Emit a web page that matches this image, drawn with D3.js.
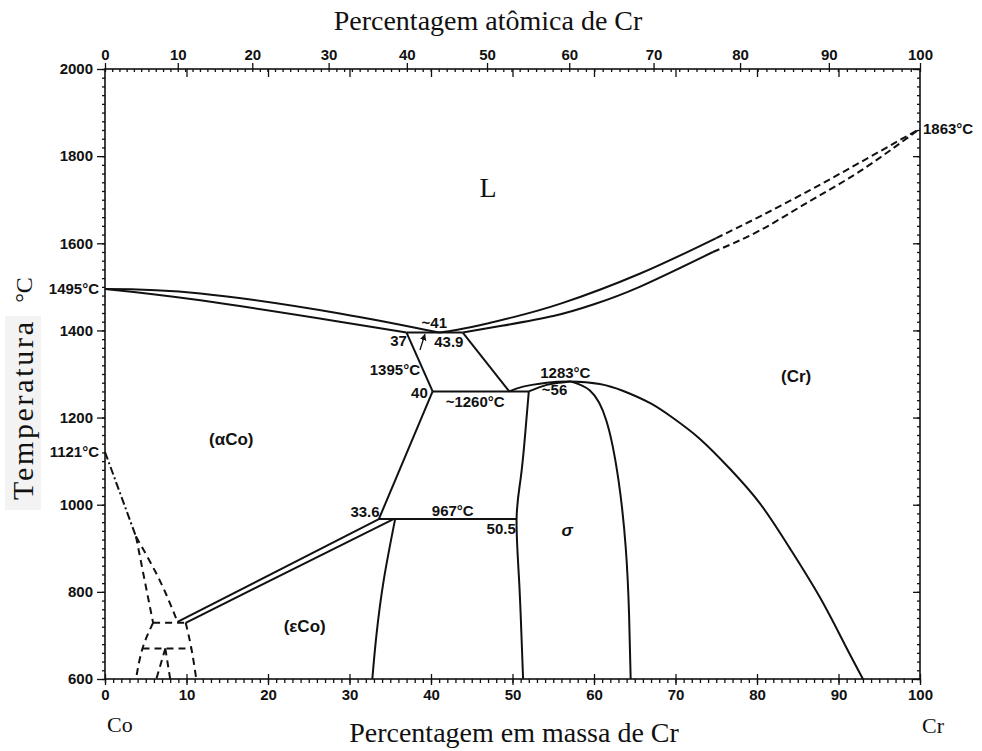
<!DOCTYPE html>
<html>
<head>
<meta charset="utf-8">
<script src="https://cdn.jsdelivr.net/npm/d3@7"></script>
<style>
body { margin: 0; background: #fff; }
svg { display: block; }
.tick text { font-family: "Liberation Sans", Arial, sans-serif; font-weight: bold; font-size: 15px; fill: #111; }
.tick line { stroke: #111; stroke-width: 1.3; }
.lbl { font-family: "Liberation Sans", Arial, sans-serif; font-weight: bold; font-size: 15px; fill: #111; }
.phase { font-family: "Liberation Sans", Arial, sans-serif; font-weight: bold; font-size: 17px; fill: #111; }
.serif { font-family: "Liberation Serif", "Times New Roman", serif; fill: #111; }
</style>
</head>
<body>
<svg id="chart" width="982" height="751"></svg>
<script>
// ticks
const massTicks = d3.range(0, 101, 10);
const massMinor = d3.range(0, 101, 1);
const atomTicks = d3.range(0, 101, 10);
const atomMinor = d3.range(0, 101, 1);
const tempTicks = d3.range(600, 2001, 200);
const tempMinor = d3.range(600, 2001, 20);

// phase boundaries, [mass % Cr, temperature °C]
const liqLeft = [[0, 1495], [11.7, 1485], [28.8, 1439], [41, 1395]];
const solLeft = [[0, 1495], [11.7, 1469], [28.8, 1420], [37, 1395]];
const liqRight = [[41, 1395], [45, 1408], [50, 1430], [56, 1462], [65.6, 1530], [75, 1612]];
const liqRightDash = [[75, 1612], [80.4, 1662], [86.5, 1722], [92.6, 1785], [100, 1863]];
const solRight = [[43.9, 1395], [48.5, 1410], [55, 1433], [60, 1460], [65.6, 1500], [74.6, 1580]];
const solRightDash = [[74.6, 1580], [80.4, 1630], [86.5, 1697], [92.6, 1765], [100, 1863]];
const crSolvus = [[49.6, 1260], [51.3, 1271], [54.2, 1280], [57.1, 1283], [60.7, 1277], [63.6, 1261],
                  [66.9, 1233], [69.7, 1199], [73, 1151], [76.7, 1082], [80.4, 1002], [84, 901],
                  [87.7, 788], [90.8, 678], [93, 600]];
const sigmaTop = [[52, 1260], [54.2, 1275], [55.8, 1280], [57.1, 1283]];
const sigmaRight = [[57.1, 1283], [59.5, 1262], [61.5, 1194], [63, 1057], [63.9, 900], [64.3, 750], [64.5, 600]];
const sigmaLeft = [[52, 1260], [51.5, 1150], [51, 1060], [50.5, 967], [50.8, 830], [51.1, 700], [51.3, 600]];
const epsBoundary = [[35.6, 967], [34.2, 827], [33.3, 700], [32.8, 600]];
const straightLines = [
  [[37, 1395], [43.9, 1395]],
  [[37, 1395], [40.2, 1260]],
  [[43.9, 1395], [49.6, 1260]],
  [[40.2, 1260], [52, 1260]],
  [[40.2, 1260], [33.6, 967]],
  [[33.6, 967], [50.5, 967]],
  [[8.9, 731], [33.6, 967]],
  [[9.9, 729], [35.4, 967]]
];
const coDashed = [
  [[3.8, 927], [5.9, 729]],
  [[3.8, 927], [6.7, 827], [8.9, 731]],
  [[5.9, 729], [9.9, 729]],
  [[5.9, 729], [4.6, 670], [3.8, 600]],
  [[9.9, 729], [10.6, 670], [11.2, 600]],
  [[4.6, 670], [10.6, 670]],
  [[7.4, 670], [6.3, 600]],
  [[7.4, 670], [8.0, 600]]
];
const dashDot = [[0, 1121], [3.8, 927]];
const arrow1395 = [[38.65, 1355], [39.25, 1391]];

// annotations, [text, mass %, °C, anchor]
const valueLabels = [
  ["~41", 40.4, 1406, "middle"],
  ["37", 37.05, 1365, "end"],
  ["43.9", 40.4, 1363, "start"],
  ["1395°C", 38.65, 1298, "end"],
  ["40", 39.6, 1245, "end"],
  ["~1260°C", 41.8, 1225, "start"],
  ["1283°C", 53.4, 1291, "start"],
  ["~56", 53.6, 1252, "start"],
  ["33.6", 33.7, 972, "end"],
  ["967°C", 40.1, 975, "start"],
  ["50.5", 50.4, 933, "end"]
];
const phaseLabels = [
  ["(αCo)", 15.5, 1137],
  ["(εCo)", 24.5, 708],
  ["(Cr)", 84.8, 1282]
];
const meltLabels = [["1495°C", 0, 1495, "end"], ["1121°C", 0, 1121, "end"], ["1863°C", 100, 1863, "start"]];

const CR = 51.996, CO = 58.933;
const atToWt = a => 100 * a * CR / (a * CR + (100 - a) * CO);

const svg = d3.select('#chart');
const x = d3.scaleLinear().domain([0, 100]).range([105, 920]);
const y = d3.scaleLinear().domain([600, 2000]).range([679, 69]);
const xa = d3.scaleLinear().domain(atomMinor).range(atomMinor.map(a => x(atToWt(a))));

// grey strip behind the pasted y title
svg.append('rect').attr('x', 5).attr('y', 316).attr('width', 36).attr('height', 194).attr('fill', '#f3f3f3');

function axis(gen, tx, ty) {
  const g = svg.append('g').attr('transform', `translate(${tx},${ty})`).call(gen);
  g.select('.domain').remove();
  return g;
}
const fmt = d3.format('d');
// bottom
axis(d3.axisBottom(x).tickValues(massTicks).tickSize(6).tickPadding(4).tickFormat(fmt), 0, 679);
axis(d3.axisBottom(x).tickValues(massTicks).tickSize(-5).tickFormat(''), 0, 679);
axis(d3.axisBottom(x).tickValues(massMinor).tickSize(4).tickFormat(''), 0, 679);
// top (atomic %)
axis(d3.axisTop(xa).tickValues(atomTicks).tickSize(6).tickPadding(3).tickFormat(fmt), 0, 69);
axis(d3.axisTop(xa).tickValues(atomMinor).tickSize(-3).tickFormat(''), 0, 69);
axis(d3.axisTop(x).tickValues(d3.range(10, 100, 10)).tickSize(-8).tickFormat(''), 0, 69);
// left
axis(d3.axisLeft(y).tickValues(tempTicks).tickSize(8).tickPadding(4).tickFormat(fmt), 105, 0);
axis(d3.axisLeft(y).tickValues(tempMinor).tickSize(3).tickFormat(''), 105, 0);
// right
axis(d3.axisLeft(y).tickValues(tempTicks).tickSize(7).tickFormat(''), 920, 0);
axis(d3.axisLeft(y).tickValues(tempMinor).tickSize(3).tickFormat(''), 920, 0);

svg.append('rect').attr('x', x(0)).attr('y', y(2000))
  .attr('width', x(100) - x(0)).attr('height', y(600) - y(2000))
  .attr('fill', 'none').attr('stroke', '#111').attr('stroke-width', 1.6);

const smooth = d3.line().x(d => x(d[0])).y(d => y(d[1])).curve(d3.curveNatural);
const straight = d3.line().x(d => x(d[0])).y(d => y(d[1]));

const plot = svg.append('g').attr('fill', 'none').attr('stroke', '#111')
  .attr('stroke-width', 2).attr('stroke-linejoin', 'round');

[liqLeft, solLeft, liqRight, solRight, crSolvus, sigmaTop, sigmaRight, sigmaLeft, epsBoundary].forEach(d => {
  plot.append('path').attr('d', smooth(d));
});
straightLines.forEach(d => plot.append('path').attr('d', straight(d)));
[liqRightDash, solRightDash].forEach(d => {
  plot.append('path').attr('d', smooth(d)).attr('stroke-dasharray', '7,4');
});
coDashed.forEach(d => {
  plot.append('path').attr('d', smooth(d)).attr('stroke-dasharray', '7,5');
});
plot.append('path').attr('d', straight(dashDot)).attr('stroke-dasharray', '8,3,2,3');

// small arrow at 1395
svg.append('defs').append('marker').attr('id', 'tip')
  .attr('viewBox', '0 0 10 10').attr('refX', 9).attr('refY', 5)
  .attr('markerWidth', 5).attr('markerHeight', 6).attr('orient', 'auto')
  .append('path').attr('d', 'M0,0L10,5L0,10z').attr('fill', '#111');
svg.append('path').attr('d', straight(arrow1395)).attr('stroke', '#111')
  .attr('stroke-width', 1.3).attr('marker-end', 'url(#tip)');

const ann = svg.append('g');
valueLabels.forEach(d => {
  ann.append('text').attr('class', 'lbl').attr('x', x(d[1])).attr('y', y(d[2]))
    .attr('text-anchor', d[3]).text(d[0]);
});
meltLabels.forEach(d => {
  ann.append('text').attr('class', 'lbl')
    .attr('x', x(d[1]) + (d[3] === 'end' ? -6 : 3)).attr('y', y(d[2]) + 5)
    .attr('text-anchor', d[3]).text(d[0]);
});
phaseLabels.forEach(d => {
  ann.append('text').attr('class', 'phase').attr('x', x(d[1])).attr('y', y(d[2]))
    .attr('text-anchor', 'middle').text(d[0]);
});
ann.append('text').attr('class', 'phase').attr('x', x(56.7)).attr('y', y(928))
  .attr('text-anchor', 'middle').style('font-style', 'italic').text('σ');
ann.append('text').attr('class', 'serif').attr('x', x(47)).attr('y', y(1706))
  .attr('text-anchor', 'middle').style('font-size', '28px').text('L');

// titles
svg.append('text').attr('class', 'serif').attr('x', 488).attr('y', 30)
  .attr('text-anchor', 'middle').style('font-size', '28px').text('Percentagem atômica de Cr');
svg.append('text').attr('class', 'serif').attr('x', 514).attr('y', 742)
  .attr('text-anchor', 'middle').style('font-size', '28px').text('Percentagem em massa de Cr');
svg.append('text').attr('class', 'serif').attr('x', 107).attr('y', 732)
  .style('font-size', '22px').text('Co');
svg.append('text').attr('class', 'serif').attr('x', 922).attr('y', 733)
  .style('font-size', '22px').text('Cr');
svg.append('text').attr('class', 'serif')
  .attr('transform', 'translate(33,411) rotate(-90)')
  .attr('text-anchor', 'middle').style('font-size', '30px')
  .attr('textLength', 178).attr('lengthAdjust', 'spacing').text('Temperatura');
svg.append('text').attr('class', 'serif')
  .attr('transform', 'translate(32,290) rotate(-90)')
  .attr('text-anchor', 'middle').style('font-size', '24px').text('°C');
</script>
</body>
</html>
